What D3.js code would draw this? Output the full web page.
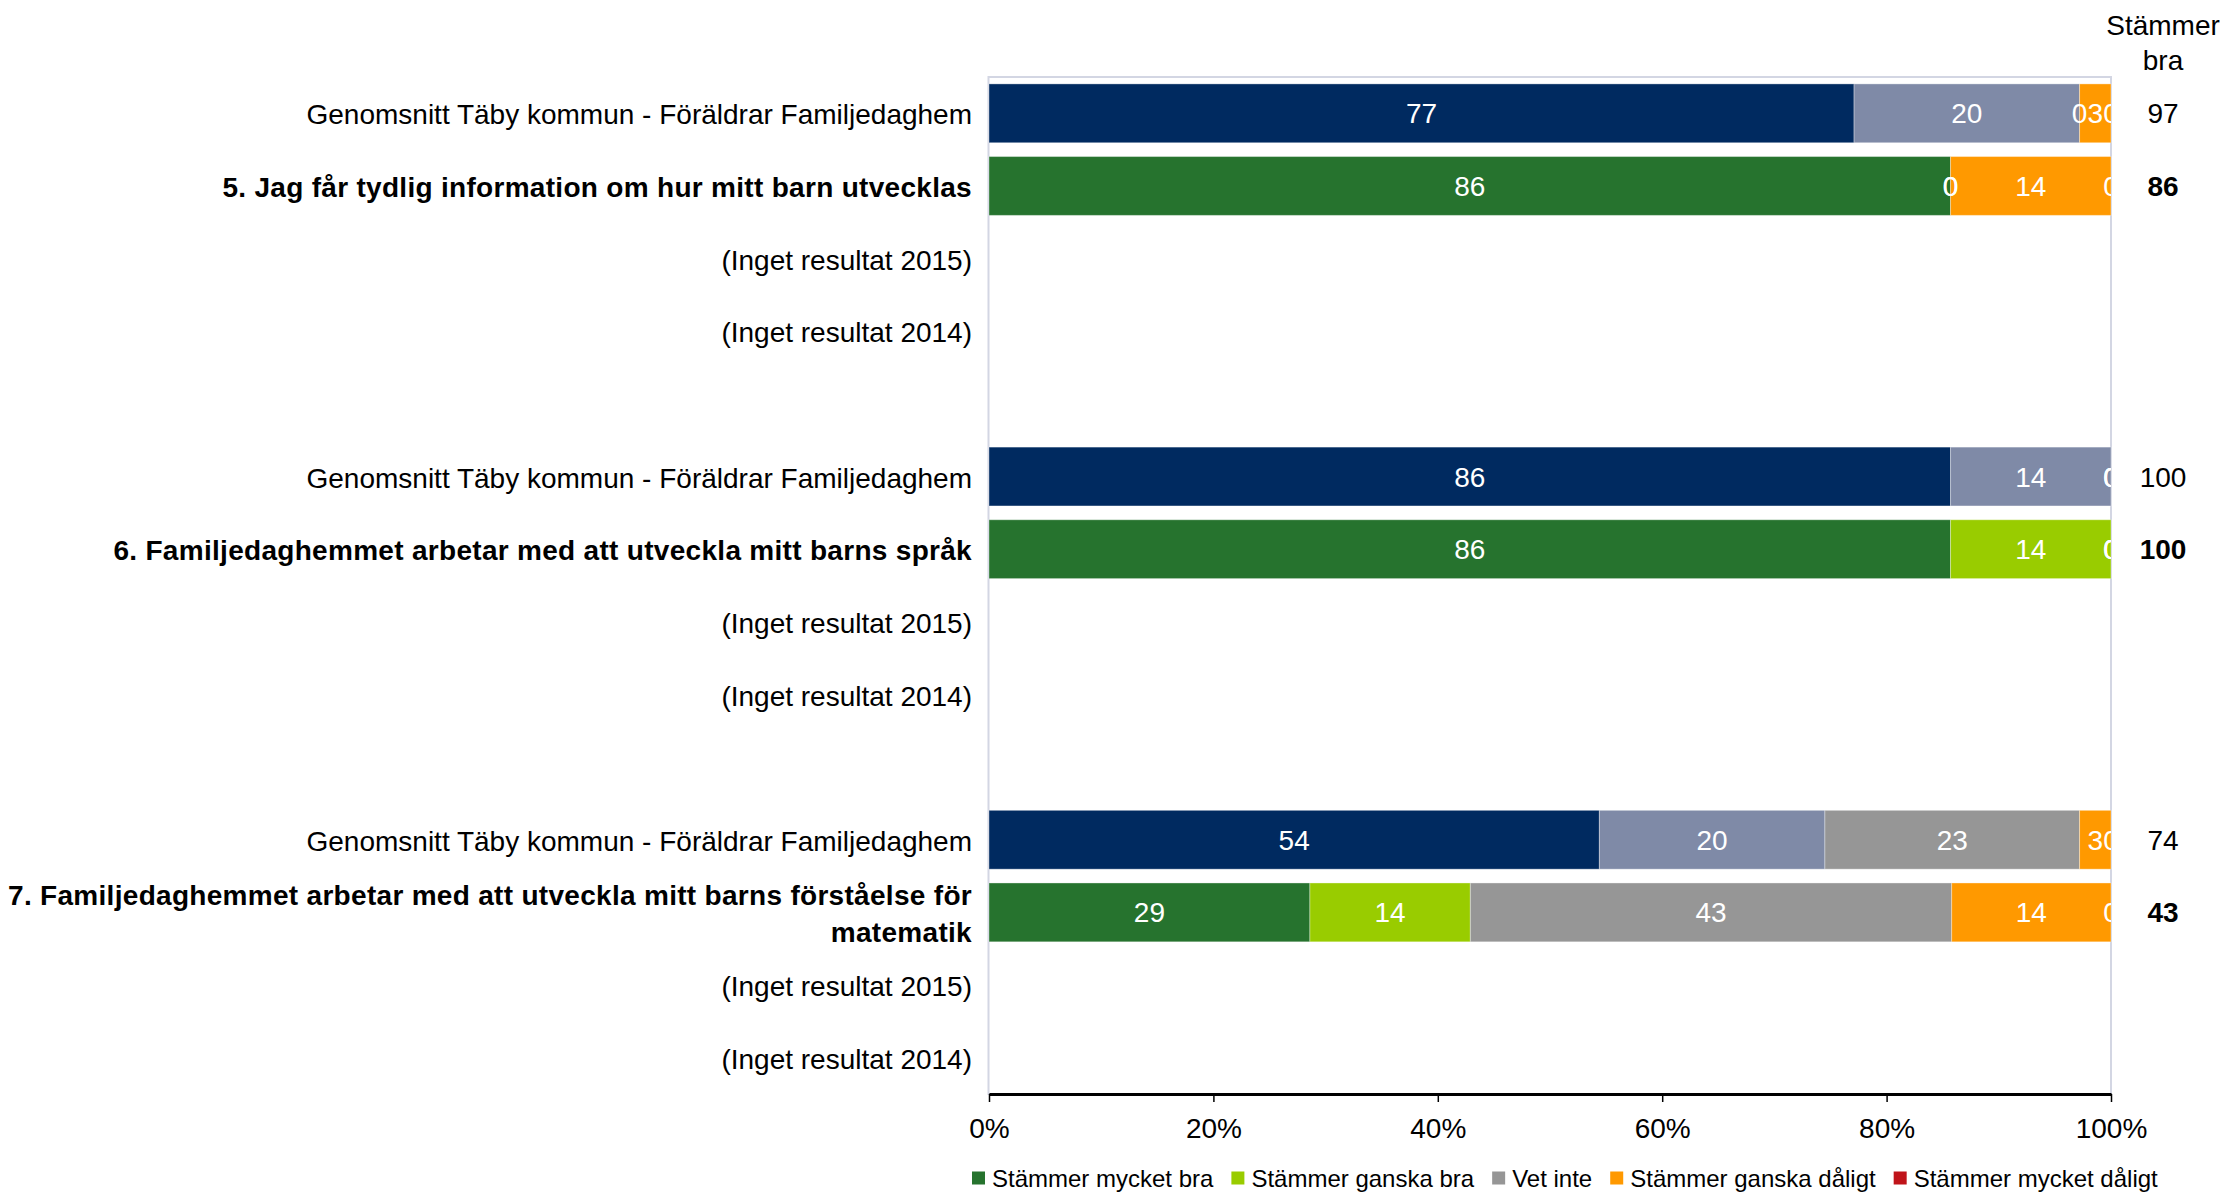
<html>
<script src="https://d3js.org/d3.v7.min.js"></script>
<style>
    body { margin: 0; background: #fff; overflow: hidden; }
    text { font-family: "Liberation Sans", Arial, sans-serif; }
</style>
<body>
<svg id="chart" width="2224" height="1192"></svg>
<script>
// row labels (empty string = gap between question groups)
var categories = [
    "Genomsnitt Täby kommun - Föräldrar Familjedaghem",
    "5. Jag får tydlig information om hur mitt barn utvecklas",
    "(Inget resultat 2015)",
    "(Inget resultat 2014)",
    "",
    "Genomsnitt Täby kommun - Föräldrar Familjedaghem",
    "6. Familjedaghemmet arbetar med att utveckla mitt barns språk",
    "(Inget resultat 2015)",
    "(Inget resultat 2014)",
    "",
    "Genomsnitt Täby kommun - Föräldrar Familjedaghem",
    "7. Familjedaghemmet arbetar med att utveckla mitt barns förståelse för matematik",
    "(Inget resultat 2015)",
    "(Inget resultat 2014)"
];
// true = question row (bold, green palette), false = kommun average
var isQuestion = [false, true, false, false, false, false, true, false, false, false, false, true, false, false];

var seriesNames = ["Stämmer mycket bra", "Stämmer ganska bra", "Vet inte", "Stämmer ganska dåligt", "Stämmer mycket dåligt"];

// percent values per series, one per row (null = no bar)
var mycketBra    = [77.1, 85.7, null, null, null, 85.7, 85.7, null, null, null, 54.4, 28.6, null, null];
var ganskaBra    = [20.1, 0,    null, null, null, 14.3, 14.3, null, null, null, 20.1, 14.3, null, null];
var vetInte      = [0,    0,    null, null, null, 0,    0,    null, null, null, 22.7, 42.9, null, null];
var ganskaDaligt = [2.8,  14.3, null, null, null, 0,    0,    null, null, null, 2.8,  14.2, null, null];
var mycketDaligt = [0,    0,    null, null, null, 0,    0,    null, null, null, 0,    0,    null, null];
var stammerBra   = [97,   86,   null, null, null, 100,  100,  null, null, null, 74,   43,   null, null];

var xTicks = [0, 20, 40, 60, 80, 100];

var avgColors = ["#002A60", "#7F8AA7", "#969696", "#FF9900", "#C0141A"];
var qColors = ["#26732E", "#99CC00", "#969696", "#FF9900", "#C0141A"];

var svg = d3.select("#chart");
var pLeft = 989, pRight = 2111, pTop = 77, pBottom = 1094;

var x = d3.scaleLinear().domain([0, 100]).range([pLeft, pRight]);
var y = d3.scaleBand().domain(d3.range(categories.length))
    .range([pTop, pBottom]).paddingInner(0.19).paddingOuter(0.095);

// build table for stacking
var keys = ["s0", "s1", "s2", "s3", "s4"];
var allSeries = [mycketBra, ganskaBra, vetInte, ganskaDaligt, mycketDaligt];
var table = categories.map(function(c, i) {
    var row = { idx: i, has: mycketBra[i] !== null };
    keys.forEach(function(k, j) { row[k] = allSeries[j][i] || 0; });
    return row;
});
var stacked = d3.stack().keys(keys)(table);

svg.append("defs").append("clipPath").attr("id", "plotclip")
    .append("rect")
    .attr("x", pLeft).attr("y", pTop)
    .attr("width", pRight - pLeft).attr("height", pBottom - pTop);

// plot border
svg.append("rect")
    .attr("x", pLeft - 0.5).attr("y", pTop)
    .attr("width", pRight - pLeft + 0.5).attr("height", pBottom - pTop)
    .attr("fill", "none")
    .attr("stroke", "#D3D6E3")
    .attr("stroke-width", 2);

// bars
stacked.forEach(function(layer, j) {
    svg.append("g").selectAll("rect")
        .data(layer.filter(function(d) { return d.data.has; }))
        .enter().append("rect")
        .attr("x", function(d) { return x(d[0]); })
        .attr("y", function(d) { return y(d.data.idx); })
        .attr("width", function(d) { return x(d[1]) - x(d[0]); })
        .attr("height", y.bandwidth())
        .attr("fill", function(d) { return isQuestion[d.data.idx] ? qColors[j] : avgColors[j]; })
        .attr("stroke", "rgba(255,255,255,0.35)")
        .attr("stroke-width", 1);
});

// value labels inside the bars
var labels = svg.append("g").attr("clip-path", "url(#plotclip)");
stacked.forEach(function(layer, j) {
    labels.selectAll(null)
        .data(layer.filter(function(d) { return d.data.has; }))
        .enter().append("text")
        .attr("x", function(d) { return x((d[0] + d[1]) / 2); })
        .attr("y", function(d) { return y(d.data.idx) + y.bandwidth() / 2; })
        .attr("dy", "0.36em")
        .attr("text-anchor", "middle")
        .attr("fill", "#fff")
        .style("font-size", "28px")
        .text(function(d) { return Math.round(d[1] - d[0]); });
});

// x axis
var axis = svg.append("g")
    .attr("transform", "translate(0," + pBottom + ")")
    .call(d3.axisBottom(x).tickValues(xTicks).tickSize(8).tickSizeOuter(0)
        .tickFormat(function(d) { return d + "%"; }));
axis.select(".domain").attr("stroke", "#000").attr("stroke-width", 3);
axis.selectAll(".tick line").attr("stroke", "#000").attr("stroke-width", 1.5);
axis.selectAll(".tick text")
    .attr("y", 24).attr("dy", "0.71em")
    .attr("fill", "#000")
    .style("font-size", "28px")
    .style("font-family", "Liberation Sans, Arial, sans-serif");

// row labels on the left
var maxW = 1000;
categories.forEach(function(c, i) {
    if (!c) return;
    var t = svg.append("text")
        .attr("text-anchor", "end")
        .attr("x", 972)
        .style("font-size", "28px")
        .style("font-weight", isQuestion[i] ? "bold" : "normal")
        .style("letter-spacing", isQuestion[i] ? "0.3px" : "0px")
        .attr("fill", "#000");
    // wrap long labels
    var words = c.split(" "), lines = [], line = [];
    var probe = t.append("tspan");
    words.forEach(function(w) {
        line.push(w);
        probe.text(line.join(" "));
        if (probe.node().getComputedTextLength() > maxW && line.length > 1) {
            line.pop();
            lines.push(line.join(" "));
            line = [w];
        }
    });
    lines.push(line.join(" "));
    probe.remove();
    var cy = y(i) + y.bandwidth() / 2;
    var lh = 37;
    lines.forEach(function(l, k) {
        t.append("tspan")
            .attr("x", 972)
            .attr("y", cy + 1 + (k - (lines.length - 1) / 2) * lh)
            .attr("dy", "0.36em")
            .text(l);
    });
});

// right column: Stämmer bra
svg.append("text").attr("x", 2163).attr("y", 35)
    .attr("text-anchor", "middle").style("font-size", "28px").text("Stämmer");
svg.append("text").attr("x", 2163).attr("y", 70)
    .attr("text-anchor", "middle").style("font-size", "28px").text("bra");
svg.append("g").selectAll("text")
    .data(stammerBra.map(function(v, i) { return { v: v, i: i }; })
        .filter(function(d) { return d.v !== null; }))
    .enter().append("text")
    .attr("x", 2163)
    .attr("y", function(d) { return y(d.i) + y.bandwidth() / 2; })
    .attr("dy", "0.36em")
    .attr("text-anchor", "middle")
    .style("font-size", "28px")
    .style("font-weight", function(d) { return isQuestion[d.i] ? "bold" : "normal"; })
    .text(function(d) { return d.v; });

// legend
var legend = svg.append("g").attr("transform", "translate(972,1178)");
var lx = 0;
seriesNames.forEach(function(name, j) {
    var g = legend.append("g").attr("transform", "translate(" + lx + ",0)");
    g.append("rect").attr("x", 0).attr("y", -6.5).attr("width", 13).attr("height", 13)
        .attr("fill", qColors[j]);
    var t = g.append("text").attr("x", 20).attr("dy", "0.36em")
        .style("font-size", "24px")
        .text(name);
    lx += 20 + t.node().getComputedTextLength() + 18;
});
</script>
</body>
</html>
